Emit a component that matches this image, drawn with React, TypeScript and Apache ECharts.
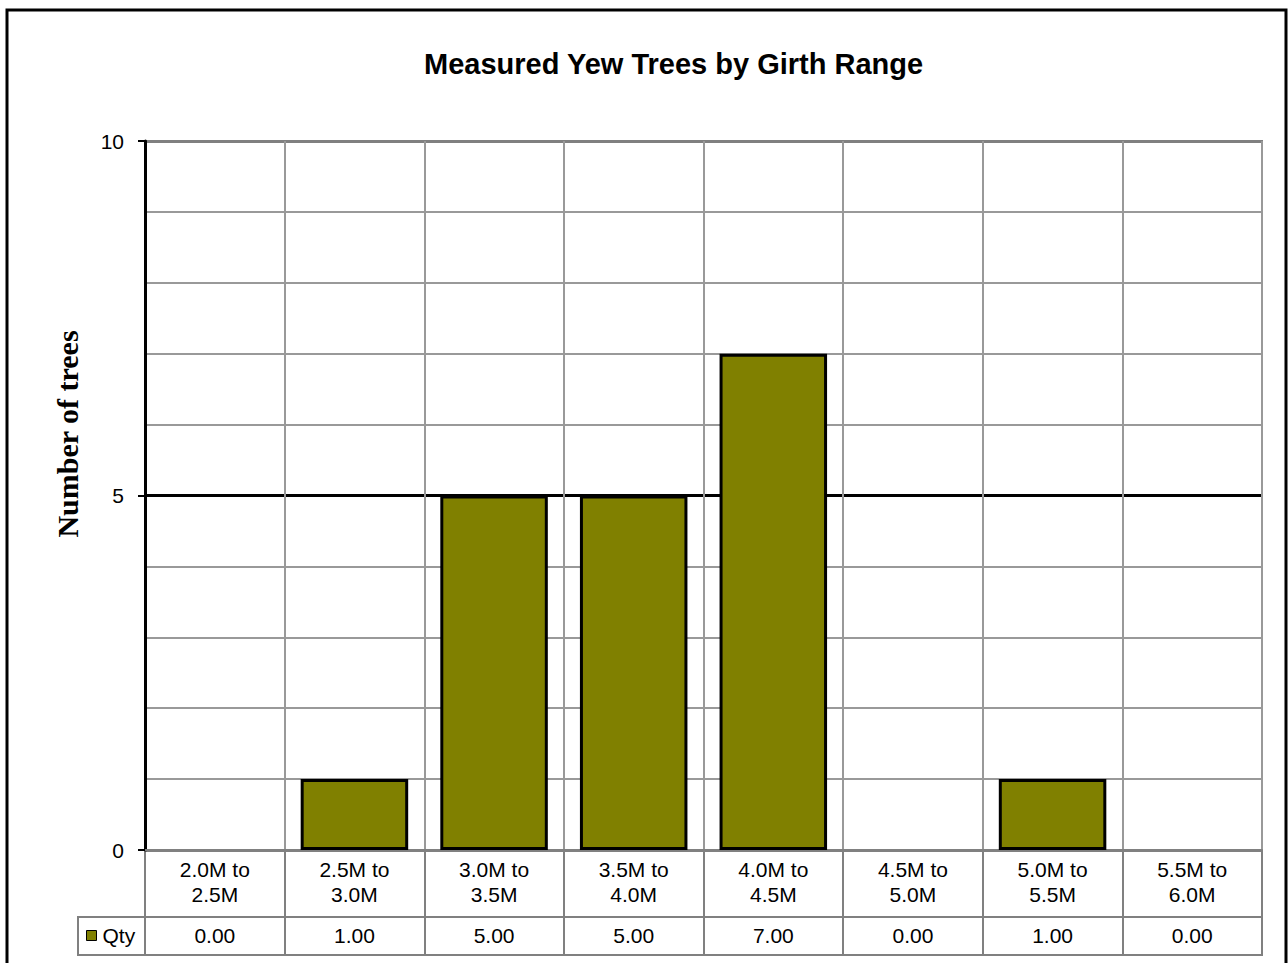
import React, { useEffect, useRef } from "react";
import * as echarts from "echarts";

const categories = [
  "2.0M to 2.5M",
  "2.5M to 3.0M",
  "3.0M to 3.5M",
  "3.5M to 4.0M",
  "4.0M to 4.5M",
  "4.5M to 5.0M",
  "5.0M to 5.5M",
  "5.5M to 6.0M",
];
const qty = [0, 1, 5, 5, 7, 0, 1, 0];
const seriesName = "Qty";
const titleText = "Measured Yew Trees by Girth Range";
const yAxisTitle = "Number of trees";

const GRID = "#999999";
const BORDER = "#808080";
const SANS = "'Liberation Sans', Arial, sans-serif";
const SERIF = "'Liberation Serif', 'Times New Roman', serif";

export default function App() {
  const ref = useRef<HTMLDivElement>(null);
  useEffect(() => {
    if (!ref.current) return;
    const chart = echarts.init(ref.current, undefined, { renderer: "svg" });
    const L = 145, R = 1262, T = 141, B = 850, ROW1 = 917, ROW2 = 955;
    chart.setOption({
      animation: false,
      backgroundColor: "#ffffff",
      title: {
        text: titleText,
        left: 419,
        top: 44,
        textStyle: { fontFamily: SANS, fontSize: 29, fontWeight: "bold", color: "#000" },
      },
      legend: {
        data: [seriesName],
        left: 86,
        top: 925,
        icon: "rect",
        itemWidth: 10,
        itemHeight: 10,
        itemGap: 4,
        padding: 0,
        itemStyle: { borderColor: "#000", borderWidth: 1 },
        textStyle: { fontFamily: SANS, fontSize: 21, color: "#000", padding: [0, 0, 0, 1] },
      },
      grid: [
        { left: L, top: T, width: R - L, height: B - T, show: true, borderColor: BORDER, borderWidth: 2, containLabel: false },
        { left: L, top: B, width: R - L, height: ROW1 - B, show: true, borderColor: BORDER, borderWidth: 2 },
        { left: L, top: ROW1, width: R - L, height: ROW2 - ROW1, show: true, borderColor: BORDER, borderWidth: 2 },
      ],
      xAxis: [
        {
          type: "category",
          gridIndex: 0,
          data: categories,
          axisLine: { show: true, lineStyle: { color: BORDER, width: 2 } },
          axisTick: { show: false },
          axisLabel: { show: false },
          splitLine: { show: true, lineStyle: { color: GRID, width: 2 } },
        },
        {
          type: "category",
          gridIndex: 1,
          data: categories,
          position: "top",
          axisLine: { show: false },
          axisTick: { show: false },
          axisLabel: {
            show: true,
            inside: true,
            margin: 7,
            fontFamily: SANS,
            fontSize: 21,
            lineHeight: 25,
            color: "#000",
            formatter: (v: string) => v.replace(" to ", " to\n"),
          },
          splitLine: { show: true, lineStyle: { color: BORDER, width: 2 } },
        },
        {
          type: "category",
          gridIndex: 2,
          data: categories,
          position: "top",
          axisLine: { show: false },
          axisTick: { show: false },
          axisLabel: {
            show: true,
            inside: true,
            margin: 8,
            fontFamily: SANS,
            fontSize: 21,
            color: "#000",
            formatter: (_v: string, i: number) => qty[i].toFixed(2),
          },
          splitLine: { show: true, lineStyle: { color: BORDER, width: 2 } },
        },
      ],
      yAxis: [
        {
          type: "value",
          gridIndex: 0,
          min: 0,
          max: 10,
          interval: 5,
          axisLine: { show: true, lineStyle: { color: "#000", width: 3 } },
          axisTick: { show: true, length: 7, lineStyle: { color: "#000", width: 2 } },
          axisLabel: { fontFamily: SANS, fontSize: 21, color: "#000", margin: 21 },
          splitLine: { show: true, lineStyle: { color: [BORDER, "#000000", BORDER], width: 3 } },
          minorTick: { show: false, splitNumber: 5 },
          minorSplitLine: { show: true, lineStyle: { color: GRID, width: 2 } },
        },
        { type: "value", gridIndex: 1, show: false, splitLine: { show: false } },
        { type: "value", gridIndex: 2, show: false, splitLine: { show: false } },
      ],
      series: [
        {
          name: seriesName,
          type: "bar",
          xAxisIndex: 0,
          yAxisIndex: 0,
          data: qty.map((v) => (v === 0 ? { value: v, itemStyle: { borderWidth: 0 } } : v)),
          barCategoryGap: "23%",
          itemStyle: { color: "#808000", borderColor: "#000", borderWidth: 3 },
        },
      ],
      graphic: [
        {
          type: "rect",
          shape: { x: 7, y: 10, width: 1279, height: 1000 },
          style: { fill: "none", stroke: "#000", lineWidth: 3 },
          silent: true,
        },
        {
          type: "rect",
          shape: { x: 78, y: ROW1, width: L - 78, height: ROW2 - ROW1 },
          style: { fill: "none", stroke: BORDER, lineWidth: 2 },
          silent: true,
          z: -1,
        },
        {
          type: "text",
          x: 67,
          y: 434,
          rotation: Math.PI / 2,
          style: {
            text: yAxisTitle,
            fontFamily: SERIF,
            fontSize: 30,
            fontWeight: "bold",
            fill: "#000",
            textAlign: "center",
            textVerticalAlign: "middle",
          },
        },
      ],
    });
    return () => chart.dispose();
  }, []);
  return (
    <div
      ref={ref}
      style={{ position: "fixed", left: 0, top: 0, width: 1288, height: 963 }}
    />
  );
}
